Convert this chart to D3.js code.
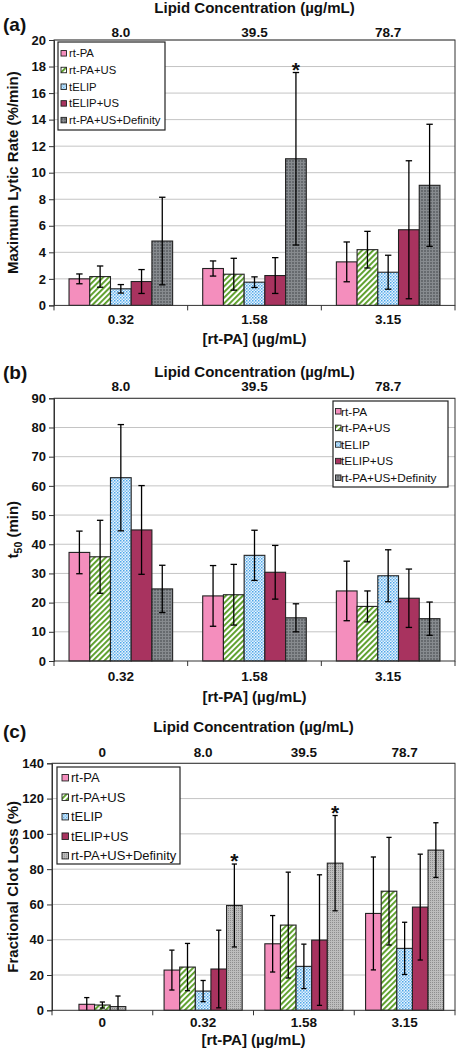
<!DOCTYPE html>
<html><head><meta charset="utf-8">
<script src="https://cdn.jsdelivr.net/npm/d3@7"></script>
<style>
body{margin:0;background:#fff}
svg{display:block}
text{font-family:"Liberation Sans",Arial,sans-serif;fill:#111}
</style>
</head><body>
<svg id="chart" width="456" height="1050"></svg>
<script>
// ---------- data ----------
const seriesNames = ["rt-PA", "rt-PA+US", "tELIP", "tELIP+US", "rt-PA+US+Definity"];

const rtpaAB = ["0.32", "1.58", "3.15"];
const lipidAB = ["8.0", "39.5", "78.7"];
const rtpaC = ["0", "0.32", "1.58", "3.15"];
const lipidC = ["0", "8.0", "39.5", "78.7"];

// (a) Maximum lytic rate (%/min)
const a_rtPA = [2.0, 2.78, 3.28];        const a_rtPA_err = [0.37, 0.57, 1.5];
const a_rtPAUS = [2.17, 2.35, 4.2];      const a_rtPAUS_err = [0.8, 1.2, 1.38];
const a_tELIP = [1.25, 1.75, 2.5];       const a_tELIP_err = [0.32, 0.4, 1.28];
const a_tELIPUS = [1.8, 2.25, 5.7];      const a_tELIPUS_err = [0.9, 1.35, 5.2];
const a_def = [4.85, 11.05, 9.05];       const a_def_err = [3.3, 6.5, 4.6];
const a_stars = [["1.58", "rt-PA+US+Definity"]];

// (b) t50 (min)
const b_rtPA = [37.2, 22.3, 24.0];       const b_rtPA_err = [7.3, 10.4, 10.2];
const b_rtPAUS = [35.7, 22.7, 18.7];     const b_rtPAUS_err = [12.5, 10.4, 5.3];
const b_tELIP = [62.8, 36.2, 29.2];      const b_tELIP_err = [18.2, 8.6, 8.9];
const b_tELIPUS = [44.9, 30.4, 21.5];    const b_tELIPUS_err = [15.2, 9.2, 10.0];
const b_def = [24.7, 14.8, 14.5];        const b_def_err = [8.1, 4.8, 5.7];
const b_stars = [];

// (c) Fractional clot loss (%)
const c_rtPA = [3.4, 22.8, 37.7, 54.9];      const c_rtPA_err = [3.8, 11.3, 16, 32];
const c_rtPAUS = [3.0, 24.5, 48.3, 67.5];    const c_rtPAUS_err = [1.7, 13.4, 30, 30.5];
const c_tELIP = [null, 10.9, 24.9, 35.1];    const c_tELIP_err = [null, 6, 12.6, 14.8];
const c_tELIPUS = [null, 23.4, 39.8, 58.5];  const c_tELIPUS_err = [null, 22, 37, 30];
const c_def = [2.1, 59.4, 83.4, 90.8];       const c_def_err = [6, 23.5, 27, 15.5];
const c_stars = [["0.32", "rt-PA+US+Definity"], ["1.58", "rt-PA+US+Definity"]];

const yTicksA = d3.range(0, 21, 2);
const yTicksB = d3.range(0, 91, 10);
const yTicksC = d3.range(0, 141, 20);

// ---------- drawing ----------
const svg = d3.select("#chart");
const defs = svg.append("defs");

// patterns
(function(){
  let p = defs.append("pattern").attr("id","pGreen").attr("patternUnits","userSpaceOnUse")
    .attr("width",4).attr("height",4).attr("patternTransform","rotate(45)");
  p.append("rect").attr("width",4).attr("height",4).attr("fill","#fff");
  p.append("rect").attr("x",0).attr("y",0).attr("width",1.9).attr("height",4).attr("fill","#5a9e28");

  p = defs.append("pattern").attr("id","pBlue").attr("patternUnits","userSpaceOnUse")
    .attr("width",3).attr("height",3);
  p.append("rect").attr("width",3).attr("height",3).attr("fill","#e8f4fd");
  p.append("rect").attr("x",0).attr("y",0).attr("width",1.5).attr("height",1.5).attr("fill","#4ea6e8");
  p.append("rect").attr("x",1.5).attr("y",1.5).attr("width",1.5).attr("height",1.5).attr("fill","#7fbff0");

  p = defs.append("pattern").attr("id","pDark").attr("patternUnits","userSpaceOnUse")
    .attr("width",3).attr("height",3);
  p.append("rect").attr("width",3).attr("height",3).attr("fill","#666a6e");
  p.append("rect").attr("x",0).attr("y",0).attr("width",3).attr("height",1).attr("fill","#878b8f");
  p.append("rect").attr("x",0).attr("y",0).attr("width",1).attr("height",3).attr("fill","#878b8f");

  p = defs.append("pattern").attr("id","pLight").attr("patternUnits","userSpaceOnUse")
    .attr("width",2).attr("height",2);
  p.append("rect").attr("width",2).attr("height",2).attr("fill","#bdbdbd");
  p.append("rect").attr("x",0).attr("y",0).attr("width",1).attr("height",1).attr("fill","#8e8e8e");
})();

const fillsAB = ["#f48ebd", "url(#pGreen)", "url(#pBlue)", "#a8335f", "url(#pDark)"];
const fillsC  = ["#f48ebd", "url(#pGreen)", "url(#pBlue)", "#a8335f", "url(#pLight)"];

const FONT = '"Liberation Sans",Arial,sans-serif';

function drawPanel(cfg) {
  const g = svg.append("g");
  const y = d3.scaleLinear().domain([0, cfg.yMax]).range([cfg.bottom, cfg.top]);
  const x0 = d3.scaleBand().domain(cfg.cats).range([cfg.left, cfg.right]).paddingInner(0).paddingOuter(0);
  const bw = x0.bandwidth() * 0.155;

  // gridlines
  g.append("g").selectAll("line").data(cfg.yTicks.filter(t => t > 0)).join("line")
    .attr("x1", cfg.left).attr("x2", cfg.right)
    .attr("y1", d => y(d)).attr("y2", d => y(d))
    .attr("stroke", "#c4c4c4").attr("stroke-width", 1);

  // bars
  cfg.cats.forEach((cat, ci) => {
    const present = seriesNames.filter((s, si) => cfg.vals[si][ci] != null);
    const cx = x0(cat) + x0.bandwidth() / 2;
    const xs = d3.scaleBand().domain(present)
      .range([cx - present.length * bw / 2, cx + present.length * bw / 2]);
    const rows = present.map(s => {
      const si = seriesNames.indexOf(s);
      return {s, si, v: cfg.vals[si][ci], e: cfg.errs[si][ci]};
    });
    const bg = g.append("g");
    bg.selectAll("rect").data(rows).join("rect")
      .attr("x", d => xs(d.s)).attr("width", xs.bandwidth())
      .attr("y", d => y(d.v)).attr("height", d => y(0) - y(d.v))
      .attr("fill", d => cfg.fills[d.si])
      .attr("stroke", "#222").attr("stroke-width", 1.1);
    const eg = bg.selectAll("g.err").data(rows).join("g").attr("class", "err");
    const ex = d => xs(d.s) + xs.bandwidth() / 2;
    eg.append("line").attr("x1", ex).attr("x2", ex)
      .attr("y1", d => y(d.v + d.e)).attr("y2", d => y(Math.max(0, d.v - d.e)))
      .attr("stroke", "#000").attr("stroke-width", 1.3);
    eg.append("line").attr("x1", d => ex(d) - cfg.cap).attr("x2", d => ex(d) + cfg.cap)
      .attr("y1", d => y(d.v + d.e)).attr("y2", d => y(d.v + d.e))
      .attr("stroke", "#000").attr("stroke-width", 1.3);
    eg.filter(d => d.v - d.e > 0).append("line").attr("x1", d => ex(d) - cfg.cap).attr("x2", d => ex(d) + cfg.cap)
      .attr("y1", d => y(d.v - d.e)).attr("y2", d => y(d.v - d.e))
      .attr("stroke", "#000").attr("stroke-width", 1.3);
    // stars
    cfg.stars.filter(st => st[0] === cat).forEach(st => {
      const r = rows.find(d => d.s === st[1]);
      g.append("text").attr("x", ex(r)).attr("y", y(r.v + r.e) + 4)
        .attr("text-anchor", "middle").attr("font-size", 21).attr("font-weight", "bold").text("*");
    });
  });

  // frame
  g.append("rect").attr("x", cfg.left).attr("y", cfg.top)
    .attr("width", cfg.right - cfg.left).attr("height", cfg.bottom - cfg.top)
    .attr("fill", "none").attr("stroke", "#333").attr("stroke-width", 1);

  // y axis
  const yAxis = d3.axisLeft(y).tickValues(cfg.yTicks).tickSize(5).tickPadding(3).tickFormat(d3.format("d"));
  const ya = g.append("g").attr("transform", `translate(${cfg.left},0)`).call(yAxis);
  ya.select(".domain").attr("stroke", "#333");
  ya.selectAll(".tick line").attr("stroke", "#333");
  ya.selectAll(".tick text").attr("font-size", 13).attr("font-weight", "bold")
    .attr("font-family", FONT).attr("fill", "#111");

  // x axis (bottom): ticks at category boundaries
  const boundaries = cfg.cats.map(c => x0(c)).concat([cfg.right]);
  g.append("g").selectAll("line").data(boundaries).join("line")
    .attr("x1", d => d).attr("x2", d => d).attr("y1", cfg.bottom).attr("y2", cfg.bottom + 5)
    .attr("stroke", "#333");
  g.append("g").selectAll("text").data(cfg.cats).join("text")
    .attr("x", d => x0(d) + x0.bandwidth() / 2).attr("y", cfg.tickLabelY)
    .attr("text-anchor", "middle").attr("font-size", 13.5).attr("font-weight", "bold").text(d => d);
  g.append("text").attr("x", (cfg.left + cfg.right) / 2).attr("y", cfg.xTitleY)
    .attr("text-anchor", "middle").attr("font-size", 15).attr("font-weight", "bold").text("[rt-PA] (µg/mL)");

  // top labels
  g.append("g").selectAll("text").data(cfg.lipids).join("text")
    .attr("x", (d, i) => x0(cfg.cats[i]) + x0.bandwidth() / 2).attr("y", cfg.topLabelY)
    .attr("text-anchor", "middle").attr("font-size", 13.5).attr("font-weight", "bold").text(d => d);
  g.append("text").attr("x", (cfg.left + cfg.right) / 2).attr("y", cfg.titleY)
    .attr("text-anchor", "middle").attr("font-size", 15).attr("font-weight", "bold").text("Lipid Concentration (µg/mL)");

  // panel letter
  g.append("text").attr("x", 3).attr("y", cfg.letterY).attr("font-size", 19).attr("font-weight", "bold").text(cfg.letter);

  // y title
  const yt = g.append("text").attr("transform", `translate(${cfg.yTitleX},${(cfg.top + cfg.bottom) / 2}) rotate(-90)`)
    .attr("text-anchor", "middle").attr("font-size", 15).attr("font-weight", "bold");
  if (cfg.yTitle === "t50") {
    yt.append("tspan").text("t");
    yt.append("tspan").attr("font-size", 10.5).attr("dy", 4).text("50");
    yt.append("tspan").attr("dy", -4).text(" (min)");
  } else {
    yt.text(cfg.yTitle);
  }

  // legend
  const L = cfg.legend;
  const lg = g.append("g");
  lg.append("rect").attr("x", L.x).attr("y", L.y).attr("width", L.w).attr("height", L.h)
    .attr("fill", "#fff").attr("stroke", "#222").attr("stroke-width", 1.2);
  const items = lg.selectAll("g").data(seriesNames).join("g")
    .attr("transform", (d, i) => `translate(0,${L.first + i * L.row})`);
  items.append("rect").attr("x", L.swX).attr("y", -L.sw / 2).attr("width", L.sw).attr("height", L.sw)
    .attr("fill", (d, i) => cfg.fills[i]).attr("stroke", "#222").attr("stroke-width", 0.9);
  items.append("text").attr("x", L.txX).attr("y", L.font * 0.36).attr("font-size", L.font).text(d => d);
}

drawPanel({
  letter: "(a)", cats: rtpaAB, lipids: lipidAB, yMax: 20, yTicks: yTicksA,
  vals: [a_rtPA, a_rtPAUS, a_tELIP, a_tELIPUS, a_def],
  errs: [a_rtPA_err, a_rtPAUS_err, a_tELIP_err, a_tELIPUS_err, a_def_err],
  stars: a_stars, fills: fillsAB, cap: 3.2,
  top: 40, bottom: 305.4, left: 54, right: 455,
  titleY: 13, topLabelY: 37, letterY: 31, tickLabelY: 324, xTitleY: 344,
  yTitle: "Maximum Lytic Rate (%/min)", yTitleX: 18,
  legend: {x: 58, y: 42, w: 107, h: 88, first: 53.3, row: 16.7, swX: 61, sw: 5.5, txX: 69, font: 11.3}
});

drawPanel({
  letter: "(b)", cats: rtpaAB, lipids: lipidAB, yMax: 90, yTicks: yTicksB,
  vals: [b_rtPA, b_rtPAUS, b_tELIP, b_tELIPUS, b_def],
  errs: [b_rtPA_err, b_rtPAUS_err, b_tELIP_err, b_tELIPUS_err, b_def_err],
  stars: b_stars, fills: fillsAB, cap: 3.2,
  top: 398.3, bottom: 661, left: 54, right: 455,
  titleY: 377, topLabelY: 391, letterY: 379, tickLabelY: 681, xTitleY: 702,
  yTitle: "t50", yTitleX: 18,
  legend: {x: 333, y: 401, w: 115, h: 86, first: 411.3, row: 16.6, swX: 335.5, sw: 5.5, txX: 341, font: 11.8}
});

drawPanel({
  letter: "(c)", cats: rtpaC, lipids: lipidC, yMax: 140, yTicks: yTicksC,
  vals: [c_rtPA, c_rtPAUS, c_tELIP, c_tELIPUS, c_def],
  errs: [c_rtPA_err, c_rtPAUS_err, c_tELIP_err, c_tELIPUS_err, c_def_err],
  stars: c_stars, fills: fillsC, cap: 2.6,
  top: 763.3, bottom: 1010.3, left: 52, right: 455,
  titleY: 732, topLabelY: 757, letterY: 738, tickLabelY: 1027, xTitleY: 1045,
  yTitle: "Fractional Clot Loss (%)", yTitleX: 18,
  legend: {x: 57, y: 767, w: 123, h: 97, first: 777.7, row: 19.5, swX: 62, sw: 6.5, txX: 71, font: 13}
});
</script>
</body></html>
